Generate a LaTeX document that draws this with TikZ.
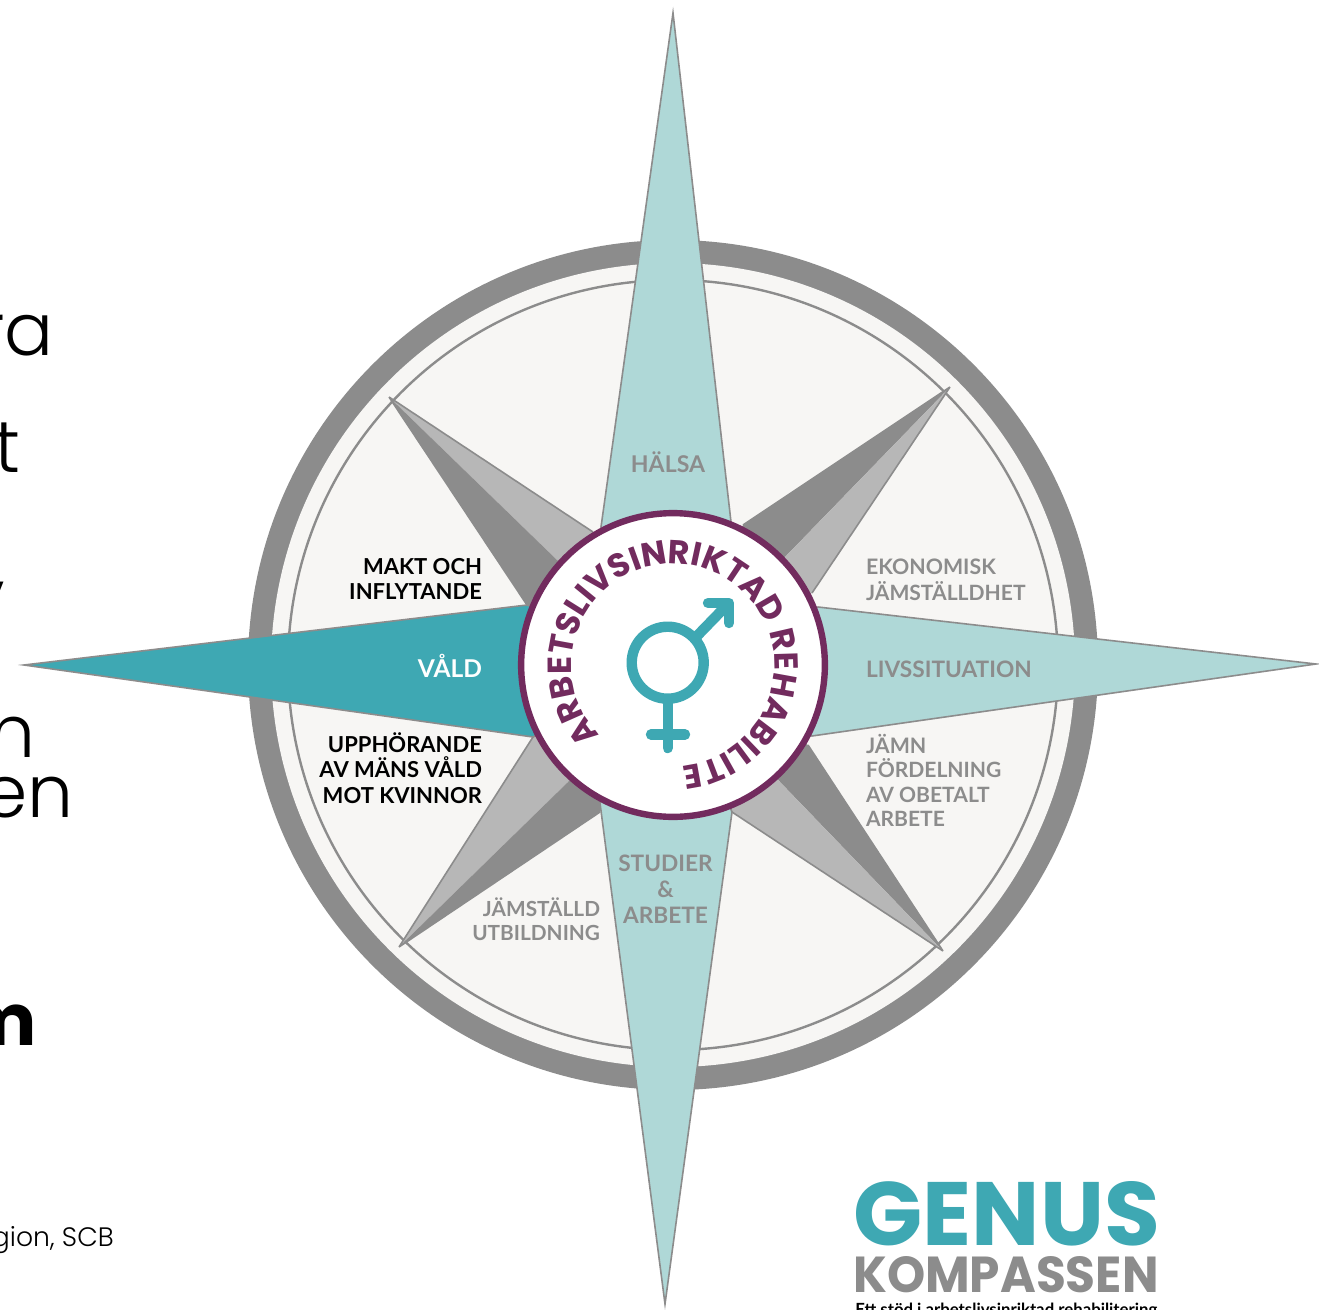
\documentclass[tikz,border=0pt]{standalone}
\usepackage{fontspec}
\usepackage{graphicx}
\usetikzlibrary{decorations.text}
\setmainfont{Lato}
\newfontfamily\poplight{Poppins Light}
\newfontfamily\popbold{Poppins}[UprightFont=*,BoldFont=* Bold]
\definecolor{teal}{HTML}{3EA8B3}
\definecolor{paleteal}{HTML}{AFD8D7}
\definecolor{darkgrey}{HTML}{8C8C8C}
\definecolor{midgrey}{HTML}{B7B7B7}
\definecolor{paper}{HTML}{F7F6F4}
\definecolor{plum}{HTML}{722B5E}
\tikzset{
  spike/.style={draw=darkgrey,line width=1.2pt,line join=miter},
  lab/.style={inner sep=0pt,outer sep=0pt,font=\bfseries\fontsize{16pt}{16pt}\selectfont},
  labblack/.style={lab,anchor=base east,text=black,font=\bfseries\fontsize{16.5pt}{16.5pt}\selectfont},
  labR/.style={lab,anchor=base east},
  labL/.style={lab,anchor=base west},
  labC/.style={lab,anchor=base},
  symb/.style={draw=teal,line width=7.8pt,line cap=round,line join=round},
  big/.style={inner sep=0pt,anchor=base east,font=\poplight\fontsize{54.5pt}{54.5pt}\selectfont}
}
\begin{document}
\begin{tikzpicture}[x=0.75pt,y=-0.75pt]
\path[use as bounding box,clip] (0,0) rectangle (1319,1309);
\fill[white] (0,0) rectangle (1319,1309);
\coordinate (c) at (673,665);
% dial
\fill[darkgrey] (c) circle[radius=318.75pt];
\fill[paper] (c) circle[radius=301.5pt];
\draw[darkgrey,line width=1.8pt] (c) circle[radius=288.75pt];
% diagonal spikes
\coordinate (nw) at (389,397);
\coordinate (ne) at (950,387);
\coordinate (sw) at (399,947);
\coordinate (se) at (943,951);
\fill[midgrey] (nw) -- (593,532) -- (673,665) -- (557,560) -- cycle;
\fill[darkgrey] (nw) -- (557,560) -- (673,665) -- (527,605) -- cycle;
\draw[darkgrey,line width=1.2pt] (nw) -- (593,532) (nw) -- (527,605);
\fill[darkgrey] (ne) -- (743,525) -- (673,665) -- (786,556) -- cycle;
\fill[midgrey] (ne) -- (786,556) -- (673,665) -- (812,593) -- cycle;
\draw[darkgrey,line width=1.2pt] (ne) -- (743,525) (ne) -- (812,593);
\fill[midgrey] (sw) -- (533,737) -- (673,665) -- (568,782) -- cycle;
\fill[darkgrey] (sw) -- (568,782) -- (673,665) -- (600,812) -- cycle;
\draw[darkgrey,line width=1.2pt] (sw) -- (533,737) (sw) -- (600,812);
\fill[darkgrey] (se) -- (808,745) -- (673,665) -- (780,782) -- cycle;
\fill[midgrey] (se) -- (780,782) -- (673,665) -- (732,812) -- cycle;
\draw[darkgrey,line width=1.2pt] (se) -- (808,745) (se) -- (732,812);
% cardinal spikes
\filldraw[spike,fill=paleteal] (673,13) -- (731,522) -- (673,665) -- (601,527) -- cycle;
\filldraw[spike,fill=paleteal] (665,1304) -- (732,812) -- (673,665) -- (600,803) -- cycle;
\filldraw[spike,fill=paleteal] (1316,664) -- (812,736) -- (673,665) -- (818,607) -- cycle;
\filldraw[spike,fill=teal] (24,665) -- (527,605) -- (673,665) -- (533,737) -- cycle;
% hub
\filldraw[draw=plum,fill=white,line width=4.8pt] (c) circle[radius=113.9pt];
\path[decorate,decoration={text along path,text align={fit to path},
  text={|\popbold\bfseries\fontsize{25pt}{25pt}\selectfont\color{plum}|ARBETSLIVSINRIKTAD REHABILITERING}}]
  (c) ++(224:76pt) arc[start angle=224,end angle=-84,radius=76pt];
% gender symbol
\coordinate (ringc) at (667.7,662.7);
\coordinate (stemtop) at (667.7,700);
\coordinate (stemend) at (667.7,748);
\coordinate (barl) at (651,734.5);
\coordinate (barr) at (685,734.5);
\coordinate (arrowfoot) at (696,637);
\coordinate (arrowtip) at (729,603);
\coordinate (headl) at (708,603);
\coordinate (headr) at (729,623);
\draw[symb] (ringc) circle[radius=27pt];
\draw[symb] (stemtop) -- (stemend);
\draw[symb] (barl) -- (barr);
\draw[symb,line cap=butt] (arrowfoot) -- (arrowtip);
\draw[symb] (headl) -- (arrowtip) -- (headr);
% labels
\node[labblack] (l1) at (482,574) {MAKT OCH};
\node[labblack] (l2) at (482,599) {INFLYTANDE};
\node[labblack] (l3) at (482,752) {UPPHÖRANDE};
\node[labblack] (l4) at (482,777) {AV MÄNS VÅLD};
\node[labblack] (l5) at (482,803) {MOT KVINNOR};
\node[labR,text=white,font=\bfseries\fontsize{18.4pt}{18.4pt}\selectfont] (l6) at (482,677) {VÅLD};
\node[labL,text=darkgrey] (r1) at (866,574) {EKONOMISK};
\node[labL,text=darkgrey,font=\bfseries\fontsize{15.8pt}{15.8pt}\selectfont] (r2) at (866,600) {JÄMSTÄLLDHET};
\node[labL,text=darkgrey,font=\bfseries\fontsize{17pt}{17pt}\selectfont] (r3) at (866,677) {LIVSSITUATION};
\node[labL,text=darkgrey] (r4) at (866,753) {JÄMN};
\node[labL,text=darkgrey,font=\bfseries\fontsize{15.8pt}{15.8pt}\selectfont] (r5) at (866,777) {FÖRDELNING};
\node[labL,text=darkgrey,font=\bfseries\fontsize{15.8pt}{15.8pt}\selectfont] (r6) at (866,802) {AV OBETALT};
\node[labL,text=darkgrey,font=\bfseries\fontsize{15.8pt}{15.8pt}\selectfont] (r7) at (866,826) {ARBETE};
\node[labR,text=darkgrey,font=\bfseries\fontsize{15.6pt}{15.6pt}\selectfont] (b1) at (600,916) {JÄMSTÄLLD};
\node[labR,text=darkgrey,font=\bfseries\fontsize{15.6pt}{15.6pt}\selectfont] (b2) at (600,940) {UTBILDNING};
\node[labC,text=darkgrey,font=\bfseries\fontsize{17.3pt}{17.3pt}\selectfont] (t1) at (668,472) {HÄLSA};
\node[labC,text=darkgrey,font=\bfseries\fontsize{17pt}{17pt}\selectfont] (s1) at (665.5,871) {STUDIER};
\node[labC,text=darkgrey,font=\bfseries\fontsize{17pt}{17pt}\selectfont] (s2) at (665.5,897) {\&};
\node[labC,text=darkgrey,font=\bfseries\fontsize{17pt}{17pt}\selectfont] (s3) at (665.5,923) {ARBETE};
% cut-off text at the left edge
\node[big] (w1) at (54,355) {ra};
\node[big] (w2) at (21,472) {t};
\node[big] (w3) at (6,590) {,};
\node[big] (w4) at (36,757) {n};
\node[big] (w5) at (74,817) {en};
\node[big,font=\popbold\bfseries\fontsize{54pt}{54pt}\selectfont] (w6) at (37,1045) {m};
\node[big,font=\poplight\fontsize{20pt}{20pt}\selectfont] (w7) at (114,1246) {gion, SCB};
% logo
\node[inner sep=0pt,anchor=base west,text=teal] (g1) at (853,1245) {\resizebox{230pt}{48pt}{\popbold\bfseries GENUS}};
\node[inner sep=0pt,anchor=base west,text=darkgrey] (g2) at (853,1292) {\resizebox{229pt}{27pt}{\popbold\bfseries KOMPASSEN}};
\node[inner sep=0pt,anchor=base west,text=black] (g3) at (855,1315) {\resizebox{226.5pt}{!}{\bfseries Ett stöd i arbetslivsinriktad rehabilitering}};
\end{tikzpicture}
\end{document}
